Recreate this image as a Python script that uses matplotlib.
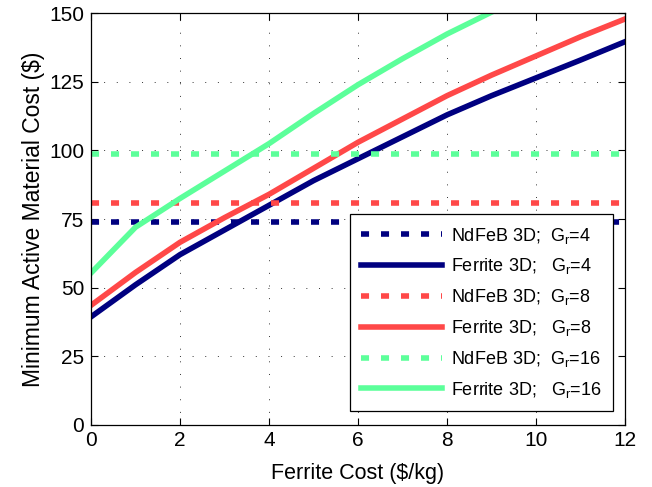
import matplotlib
matplotlib.use('Agg')
import matplotlib.pyplot as plt

plt.rcParams['font.family'] = ['Liberation Sans', 'DejaVu Sans']
plt.rcParams['mathtext.fontset'] = 'custom'
plt.rcParams['mathtext.rm'] = 'Liberation Sans'
plt.rcParams['mathtext.it'] = 'Liberation Sans:italic'

# ferrite cost ($/kg)
x = [0, 1, 2, 3, 4, 5, 6, 7, 8, 9, 10, 11, 12]
x_g16 = [0, 1, 2, 3, 4, 5, 6, 7, 8, 9]

ferrite_g4 = [39.3, 51, 62, 71, 80, 89, 97, 105, 113, 120, 126.5, 133, 139.7]
ferrite_g8 = [43.5, 55.5, 66.5, 75.5, 84, 93.5, 103, 111.5, 120, 127.5, 134.5, 141.5, 148]
ferrite_g16 = [55.3, 72, 82.5, 92.5, 102.5, 113.5, 124, 133.5, 142.5, 150.5]

ndfeb_g4 = 74.0
ndfeb_g8 = 80.7
ndfeb_g16 = 98.7

navy = '#000080'
red = '#ff4848'
green = '#5cff9a'

lw = 4.0
dots = (0, (1.45, 2.15))

fig = plt.figure(figsize=(6.52, 4.87), dpi=100)
ax = fig.add_axes([0.1396, 0.1283, 0.819, 0.844])

ax.axhline(ndfeb_g4, color=navy, lw=lw, ls=dots, label='NdFeB 3D;  G$_\\mathrm{r}$=4')
ax.plot(x, ferrite_g4, color=navy, lw=lw, label='Ferrite 3D;   G$_\\mathrm{r}$=4')
ax.axhline(ndfeb_g8, color=red, lw=lw, ls=dots, label='NdFeB 3D;  G$_\\mathrm{r}$=8')
ax.plot(x, ferrite_g8, color=red, lw=lw, label='Ferrite 3D;   G$_\\mathrm{r}$=8')
ax.axhline(ndfeb_g16, color=green, lw=lw, ls=dots, label='NdFeB 3D;  G$_\\mathrm{r}$=16')
ax.plot(x_g16, ferrite_g16, color=green, lw=lw, label='Ferrite 3D;   G$_\\mathrm{r}$=16')

ax.set_xlim(0, 12)
ax.set_ylim(0, 150)
ax.set_xticks(range(0, 13, 2))
ax.set_yticks(range(0, 151, 25))
ax.tick_params(direction='in', length=5, width=0.8, labelsize=15,
               top=True, right=True, pad=5)
ax.grid(True, color='black', ls=(0, (1, 12)), lw=0.7, alpha=0.8)
for s in ax.spines.values():
    s.set_linewidth(0.9)

ax.set_xlabel('Ferrite Cost ($/kg)', fontsize=15.5, labelpad=9)
ax.set_ylabel('Minimum Active Material Cost ($)', fontsize=16.5, labelpad=3)

leg = ax.legend(loc='lower right', bbox_to_anchor=(0.9775, 0.033), borderaxespad=0,
                fontsize=13, fancybox=False, framealpha=1, edgecolor='black',
                handlelength=4.5, handletextpad=0.5, labelspacing=0.6,
                borderpad=0.62)
leg.get_frame().set_linewidth(0.9)

fig.savefig('out.png', dpi=100)
